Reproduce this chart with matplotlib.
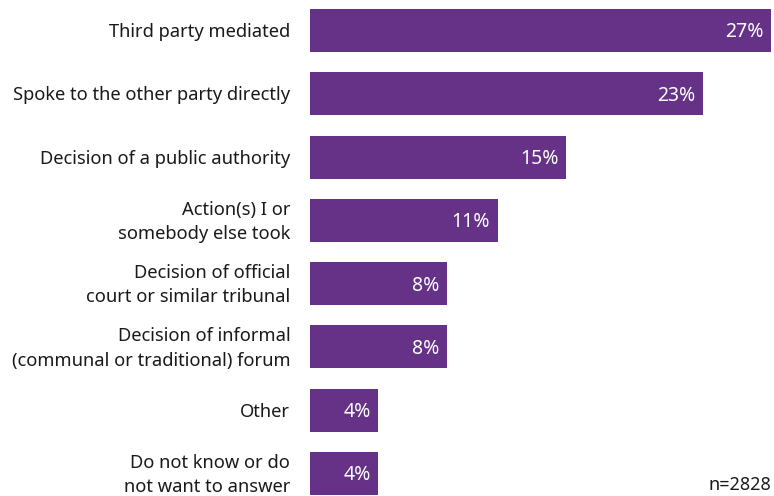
import matplotlib
matplotlib.use("Agg")
import matplotlib.pyplot as plt

plt.rcParams['font.family'] = ['Noto Sans', 'DejaVu Sans']

# how the problem got resolved
labels = [
    "Third party mediated",
    "Spoke to the other party directly",
    "Decision of a public authority",
    "Action(s) I or\nsomebody else took",
    "Decision of official\ncourt or similar tribunal",
    "Decision of informal\n(communal or traditional) forum",
    "Other",
    "Do not know or do\nnot want to answer",
]
values = [27, 23, 15, 11, 8, 8, 4, 4]
sample = "n=2828"

purple = "#653287"

fig = plt.figure(figsize=(7.74, 4.96), dpi=100)
ax = fig.add_axes([310 / 774, 1 - 495 / 496, 461 / 774, 486 / 496])

pos = list(range(len(values)))
ax.barh(pos, values, height=0.68, color=purple)
ax.set_xlim(0, 27)
ax.set_ylim(len(values) - 1 + 0.34, -0.34)

for y, v, lab in zip(pos, values, labels):
    ax.text(v - 0.45, y + 0.03, f"{v}%", color="white", fontsize=14,
            ha="right", va="center")
    ax.text(-1.15, y + 0.025, lab, color="#1a1a1a", fontsize=13.2,
            ha="right", va="center", linespacing=1.43)

ax.text(27, len(values) - 1 + 0.32, sample, color="#1a1a1a", fontsize=13,
        ha="right", va="bottom")

ax.set_xticks([])
ax.set_yticks([])
for s in ax.spines.values():
    s.set_visible(False)

fig.savefig("out.png", dpi=100)
